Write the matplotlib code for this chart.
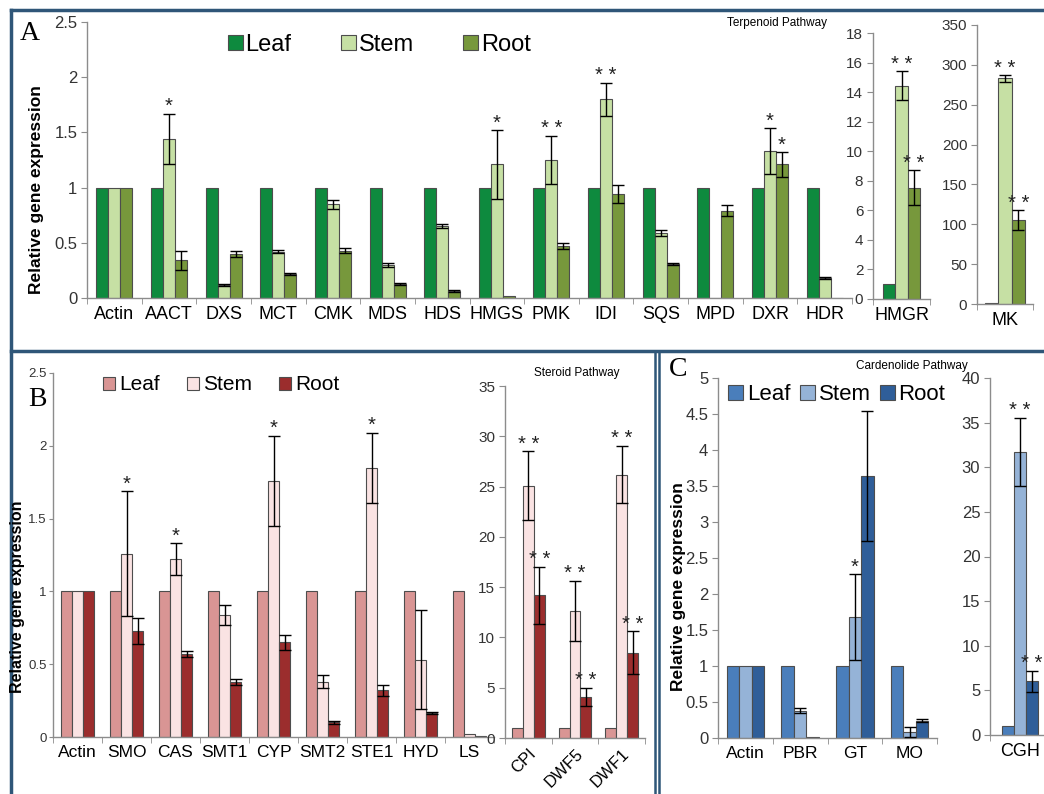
import matplotlib
matplotlib.use('Agg')
import matplotlib.pyplot as plt
from matplotlib.lines import Line2D
import numpy as np

plt.rcParams['font.family'] = ['Liberation Sans', 'DejaVu Sans']

W, H = 1044, 794

# ---------------- Data ----------------
# Panel A: Terpenoid pathway
a_genes = ['Actin', 'AACT', 'DXS', 'MCT', 'CMK', 'MDS', 'HDS', 'HMGS', 'PMK', 'IDI', 'SQS', 'MPD', 'DXR', 'HDR']
a_leaf = [1, 1, 1, 1, 1, 1, 1, 1, 1, 1, 1, 1, 1, 1]
a_stem = [1, 1.44, 0.12, 0.42, 0.85, 0.30, 0.65, 1.21, 1.25, 1.80, 0.59, 0.0, 1.33, 0.18]
a_stem_err = [0, 0.23, 0.01, 0.015, 0.04, 0.015, 0.02, 0.31, 0.22, 0.15, 0.03, 0, 0.21, 0.01]
a_root = [1, 0.34, 0.40, 0.22, 0.43, 0.13, 0.06, 0.02, 0.47, 0.94, 0.31, 0.79, 1.21, 0.0]
a_root_err = [0, 0.09, 0.025, 0.01, 0.025, 0.01, 0.01, 0.0, 0.03, 0.08, 0.01, 0.05, 0.11, 0]
a_stem_sig = ['', '*', '', '', '', '', '', '*', '**', '**', '', '', '*', '']
a_root_sig = ['', '', '', '', '', '', '', '', '', '', '', '', '*', '']

a2_genes = ['HMGR']
a2_leaf = [1]
a2_stem = [14.44]
a2_stem_err = [0.97]
a2_root = [7.53]
a2_root_err = [1.2]

a3_genes = ['MK']
a3_leaf = [1]
a3_stem = [283]
a3_stem_err = [4]
a3_root = [105]
a3_root_err = [12.5]

# Panel B: Steroid pathway
b_genes = ['Actin', 'SMO', 'CAS', 'SMT1', 'CYP', 'SMT2', 'STE1', 'HYD', 'LS']
b_leaf = [1, 1, 1, 1, 1, 1, 1, 1, 1]
b_stem = [1, 1.26, 1.22, 0.84, 1.76, 0.38, 1.85, 0.53, 0.02]
b_stem_err = [0, 0.43, 0.11, 0.07, 0.31, 0.045, 0.24, 0.34, 0]
b_root = [1, 0.73, 0.57, 0.38, 0.65, 0.10, 0.32, 0.165, 0.01]
b_root_err = [0, 0.09, 0.02, 0.02, 0.05, 0.01, 0.035, 0.01, 0]
b_stem_sig = ['', '*', '*', '', '*', '', '*', '', '']

b2_genes = ['CPI', 'DWF5', 'DWF1']
b2_leaf = [1, 1, 1]
b2_stem = [25.1, 12.65, 26.2]
b2_stem_err = [3.4, 3.0, 2.85]
b2_root = [14.2, 4.1, 8.5]
b2_root_err = [2.85, 0.9, 2.1]

# Panel C: Cardenolide pathway
c_genes = ['Actin', 'PBR', 'GT', 'MO']
c_leaf = [1, 1, 1, 1]
c_stem = [1, 0.38, 1.68, 0.08]
c_stem_err = [0, 0.03, 0.6, 0.07]
c_root = [1, 0.02, 3.64, 0.24]
c_root_err = [0, 0, 0.9, 0.02]
c_stem_sig = ['', '', '*', '']

c2_genes = ['CGH']
c2_leaf = [1]
c2_stem = [31.7]
c2_stem_err = [3.85]
c2_root = [6.0]
c2_root_err = [1.2]

tissues = ['Leaf', 'Stem', 'Root']
green = ['#0e8a3e', '#c6e0a4', '#77983c']
rose = ['#d99594', '#fae3e3', '#9b2d2d']
blue = ['#4a7ebb', '#95b3d7', '#2f5e99']

# ---------------- Helpers ----------------
fig = plt.figure(figsize=(W / 100, H / 100), dpi=100)


def px_axes(l, r, t, b):
    return fig.add_axes([l / W, 1 - b / H, (r - l) / W, (b - t) / H])


def fx(x):
    return x / W


def fy(y):
    return 1 - y / H


def style_axes(ax, genes, ymax, ystep, yfs, xfs, rot=0, ypad=3, ylen=4, ylabels=None):
    n = len(genes)
    ax.set_xlim(0, n)
    ax.set_ylim(0, ymax)
    for s in ['top', 'right']:
        ax.spines[s].set_visible(False)
    for s in ['left', 'bottom']:
        ax.spines[s].set_color('#8c8c8c')
        ax.spines[s].set_linewidth(1.0)
    yt = np.arange(0, ymax + ystep / 2, ystep)
    ax.set_yticks(yt)
    if ylabels is not None:
        ax.set_yticklabels(ylabels)
    ax.tick_params(axis='y', direction='out', length=ylen, color='#8c8c8c',
                   labelsize=yfs, labelcolor='#333333', pad=ypad)
    ax.set_xticks(np.arange(n) + 0.5)
    if rot:
        ax.set_xticklabels(genes, rotation=rot, ha='right', va='top', rotation_mode='anchor')
    else:
        ax.set_xticklabels(genes)
    ax.set_xticks(np.arange(n + 1), minor=True)
    ax.tick_params(axis='x', which='major', length=0, labelsize=xfs, pad=6)
    ax.tick_params(axis='x', which='minor', direction='out', length=4, color='#8c8c8c')
    ax.patch.set_alpha(0)


def draw_bars(ax, leaf, stem, stem_err, root, root_err, colors, width,
              stem_sig=None, root_sig=None, star_fs=14.5):
    n = len(leaf)
    x = np.arange(n) + 0.5
    handles = []
    for k, (vals, errs) in enumerate([(leaf, None), (stem, stem_err), (root, root_err)]):
        xs = x + (k - 1) * width
        h = ax.bar(xs, vals, width=width, color=colors[k], edgecolor='#4d4d4d',
                   linewidth=0.8, label=tissues[k], zorder=2)
        handles.append(h)
        if errs is not None:
            for xi, v, e in zip(xs, vals, errs):
                if e > 0:
                    ax.errorbar(xi, v, yerr=e, fmt='none', ecolor='black',
                                elinewidth=1, capsize=4.5, capthick=1, zorder=3)
    for k, (vals, errs, sig) in enumerate([(stem, stem_err, stem_sig), (root, root_err, root_sig)]):
        if sig is None:
            continue
        xs = x + k * width
        for xi, v, e, s in zip(xs, vals, errs, sig):
            if s:
                txt = '* *' if s == '**' else s
                ax.annotate(txt, xy=(xi, v + e), xytext=(0, 1), textcoords='offset points',
                            ha='center', va='baseline', fontsize=star_fs, color='#222222')
    return handles


def legend(ax, handles, x, y, fs, hl, tp, cs):
    ax.legend(handles=handles, labels=tissues, ncol=3, frameon=False, fontsize=fs,
              loc='center left', bbox_to_anchor=(fx(x), fy(y)), bbox_transform=fig.transFigure,
              borderpad=0, borderaxespad=0, handlelength=hl, handleheight=hl,
              handletextpad=tp, columnspacing=cs)


# ---------------- Panel A ----------------
axA = px_axes(87, 852, 22, 298)
hA = draw_bars(axA, a_leaf, a_stem, a_stem_err, a_root, a_root_err, green, 0.22,
               a_stem_sig, a_root_sig)
style_axes(axA, a_genes, 2.5, 0.5, 12, 13,
           ylabels=['0', '0.5', '1', '1.5', '2', '2.5'])
legend(axA, hA, 228, 45, 17, 0.62, 0.12, 2.1)

axA2 = px_axes(873, 930, 33, 299)
draw_bars(axA2, a2_leaf, a2_stem, a2_stem_err, a2_root, a2_root_err, green, 0.22,
          ['**'], ['**'])
style_axes(axA2, a2_genes, 18, 2, 11, 13)

axA3 = px_axes(977, 1033, 25, 304)
draw_bars(axA3, a3_leaf, a3_stem, a3_stem_err, a3_root, a3_root_err, green, 0.24,
          ['**'], ['**'])
style_axes(axA3, a3_genes, 350, 50, 11, 13)

# ---------------- Panel B ----------------
axB = px_axes(53, 494, 373, 737)
hB = draw_bars(axB, b_leaf, b_stem, b_stem_err, b_root, b_root_err, rose, 0.225,
               b_stem_sig, None)
style_axes(axB, b_genes, 2.5, 0.5, 9.5, 12.5, ypad=1.5, ylen=3,
           ylabels=['0', '0.5', '1', '1.5', '2', '2.5'])
legend(axB, hB, 103, 385, 15, 0.58, 0.2, 1.3)

axB2 = px_axes(505, 645, 386, 738)
draw_bars(axB2, b2_leaf, b2_stem, b2_stem_err, b2_root, b2_root_err, rose, 0.235,
          ['**', '**', '**'], ['**', '**', '**'])
style_axes(axB2, b2_genes, 35, 5, 11, 12, rot=45)

# ---------------- Panel C ----------------
axC = px_axes(718, 937, 378, 738)
hC = draw_bars(axC, c_leaf, c_stem, c_stem_err, c_root, c_root_err, blue, 0.227,
               c_stem_sig, None)
style_axes(axC, c_genes, 5, 0.5, 12, 12.5,
           ylabels=['0', '0.5', '1', '1.5', '2', '2.5', '3', '3.5', '4', '4.5', '5'])
legend(axC, hC, 728, 395, 16, 0.68, 0.18, 0.4)

axC2 = px_axes(990, 1050, 378, 735)
draw_bars(axC2, c2_leaf, c2_stem, c2_stem_err, c2_root, c2_root_err, blue, 0.2,
          ['**'], ['**'])
style_axes(axC2, c2_genes, 40, 5, 12, 13)

# ---------------- Texts ----------------
ylab_kw = dict(rotation=90, ha='center', va='center', fontweight='bold')
fig.text(fx(37), fy(190), 'Relative gene expression', fontsize=12.5, **ylab_kw)
fig.text(fx(18), fy(597), 'Relative gene expression', fontsize=11.5, **ylab_kw)
fig.text(fx(678), fy(587), 'Relative gene expression', fontsize=12.5, **ylab_kw)

letter_kw = dict(ha='center', va='center', fontsize=20, family=['Liberation Serif', 'DejaVu Serif'])
fig.text(fx(30), fy(33), 'A', **letter_kw)
fig.text(fx(37), fy(400), 'B', **letter_kw)
fig.text(fx(678), fy(369), 'C', **letter_kw)

fig.text(fx(777), fy(23), 'Terpenoid Pathway', ha='center', va='center', fontsize=8.5)
fig.text(fx(577), fy(373), 'Steroid Pathway', ha='center', va='center', fontsize=8.5)
fig.text(fx(912), fy(366), 'Cardenolide Pathway', ha='center', va='center', fontsize=8.5)

# ---------------- Panel borders ----------------
bc = '#2f5678'


def hline(y, x1, x2, lw=2.5):
    fig.add_artist(Line2D([fx(x1), fx(x2)], [fy(y), fy(y)], transform=fig.transFigure,
                          color=bc, lw=lw))


def vline(x, y1, y2, lw=2.5):
    fig.add_artist(Line2D([fx(x), fx(x)], [fy(y1), fy(y2)], transform=fig.transFigure,
                          color=bc, lw=lw))


hline(10, 11, 1044)
vline(11, 10, 794)
hline(351, 11, 1044)
vline(655, 351, 794, lw=1.8)
vline(659, 351, 794, lw=1.8)

fig.savefig('out.png', dpi=100)
